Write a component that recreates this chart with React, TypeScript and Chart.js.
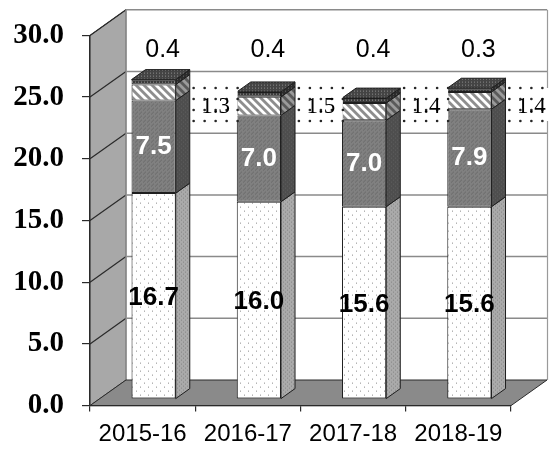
import React, { useEffect, useRef } from "react";
import { Chart, registerables } from "chart.js";

Chart.register(...registerables);

// Share of total, by year (stacked from the bottom up)
const categories = ["2015-16", "2016-17", "2017-18", "2018-19"];
const baseShare = [16.7, 16.0, 15.6, 15.6];
const midShare = [7.5, 7.0, 7.0, 7.9];
const hatchShare = [1.3, 1.5, 1.4, 1.4];
const capShare = [0.4, 0.4, 0.4, 0.3];
const yMin = 0;
const yMax = 30;
const yStep = 5;

// 3D box geometry (pixels)
const DEPTH_X = 36;
const DEPTH_Y = -25.6;
const BAR_DEPTH = 0.39;
const SHIFT_X = 11; // bars sit part of the way into the box
const SHIFT_Y = DEPTH_Y * 0.25;
const SIDE_X = DEPTH_X * BAR_DEPTH;
const SIDE_Y = DEPTH_Y * BAR_DEPTH;

const SANS = '"Liberation Sans", Arial, sans-serif';
const SERIF = '"Liberation Serif", "Times New Roman", serif';

function tile(size: number, draw: (g: CanvasRenderingContext2D, s: number) => void) {
  const c = document.createElement("canvas");
  c.width = size;
  c.height = size;
  const g = c.getContext("2d")!;
  draw(g, size);
  const ctx = document.createElement("canvas").getContext("2d")!;
  return ctx.createPattern(c, "repeat")!;
}

function dotted(bg: string, dot: string, size: number, pts: number[][]) {
  return tile(size, (g, s) => {
    g.fillStyle = bg;
    g.fillRect(0, 0, s, s);
    g.fillStyle = dot;
    pts.forEach(([x, y]) => g.fillRect(x, y, 1, 1));
  });
}

function hatched(bg: string, line: string) {
  return tile(8, (g, s) => {
    g.fillStyle = bg;
    g.fillRect(0, 0, s, s);
    g.fillStyle = line;
    for (let y = 0; y < s; y++) {
      for (let x = 0; x < s; x++) {
        if ((((x - y) % s) + s) % s < 4) g.fillRect(x, y, 1, 1);
      }
    }
  });
}

const fills = () => ({
  baseFront: dotted("#ffffff", "#8a8a8a", 8, [[1, 1], [5, 5]]),
  baseSide: dotted("#aaaaaa", "#848484", 4, [[0, 0], [2, 2]]),
  midFront: dotted("#808080", "#6a6a6a", 4, [[0, 0], [2, 2], [1, 3]]),
  midSide: dotted("#4e4e4e", "#606060", 4, [[0, 0], [2, 2]]),
  hatchFront: hatched("#ffffff", "#8e8e8e"),
  hatchSide: hatched("#9a9a9a", "#5a5a5a"),
  capFront: dotted("#3a3a3a", "#9a9a9a", 3, [[1, 1]]),
  capSide: dotted("#2c2c2c", "#6e6e6e", 3, [[1, 1]]),
  capTop: dotted("#444444", "#8c8c8c", 3, [[1, 1]]),
});

export default function App() {
  const ref = useRef<HTMLCanvasElement | null>(null);

  useEffect(() => {
    document.body.style.margin = "0";
    const canvas = ref.current!;
    const f = fills();
    const sides = [f.baseSide, f.midSide, f.hatchSide, f.capSide];

    const box3d = {
      id: "box3d",
      beforeDraw(chart: any) {
        const { ctx, chartArea: a, scales } = chart;
        const ys = scales.y;
        const l = a.left, r = a.right, b = a.bottom;
        const top = ys.getPixelForValue(yMax);
        ctx.save();
        // back wall
        ctx.fillStyle = "#ffffff";
        ctx.fillRect(l + DEPTH_X, top + DEPTH_Y, r - l, b - top);
        // left wall
        ctx.beginPath();
        ctx.moveTo(l, top);
        ctx.lineTo(l + DEPTH_X, top + DEPTH_Y);
        ctx.lineTo(l + DEPTH_X, b + DEPTH_Y);
        ctx.lineTo(l, b);
        ctx.closePath();
        ctx.fillStyle = "#a8a8a8";
        ctx.fill();
        ctx.strokeStyle = "#3a3a3a";
        ctx.lineWidth = 1;
        ctx.stroke();
        // gridlines across the left wall and back wall
        for (let v = yMin + yStep; v <= yMax; v += yStep) {
          const y = ys.getPixelForValue(v);
          ctx.beginPath();
          ctx.moveTo(l, y);
          ctx.lineTo(l + DEPTH_X, y + DEPTH_Y);
          ctx.strokeStyle = "#2a2a2a";
          ctx.lineWidth = 1.2;
          ctx.stroke();
          ctx.beginPath();
          ctx.moveTo(l + DEPTH_X, y + DEPTH_Y);
          ctx.lineTo(r + DEPTH_X, y + DEPTH_Y);
          ctx.strokeStyle = "#8a8a8a";
          ctx.lineWidth = 1.5;
          ctx.stroke();
        }
        // back wall edges
        ctx.beginPath();
        ctx.moveTo(l + DEPTH_X, top + DEPTH_Y);
        ctx.lineTo(l + DEPTH_X, b + DEPTH_Y);
        ctx.moveTo(r + DEPTH_X + 0.5, top + DEPTH_Y);
        ctx.lineTo(r + DEPTH_X + 0.5, b + DEPTH_Y);
        ctx.strokeStyle = "#9a9a9a";
        ctx.lineWidth = 1.2;
        ctx.stroke();
        // floor
        ctx.beginPath();
        ctx.moveTo(l, b);
        ctx.lineTo(r, b);
        ctx.lineTo(r + DEPTH_X, b + DEPTH_Y);
        ctx.lineTo(l + DEPTH_X, b + DEPTH_Y);
        ctx.closePath();
        ctx.fillStyle = "#8a8a8a";
        ctx.fill();
        ctx.strokeStyle = "#2a2a2a";
        ctx.lineWidth = 1;
        ctx.stroke();
        ctx.restore();
      },
      beforeDatasetsDraw(chart: any) {
        chart.ctx.save();
        chart.ctx.translate(SHIFT_X, SHIFT_Y);
      },
      afterDatasetsDraw(chart: any) {
        const { ctx } = chart;
        const n = chart.data.datasets.length;
        for (let d = 0; d < n; d++) {
          const meta = chart.getDatasetMeta(d);
          meta.data.forEach((el: any) => {
            const right = el.x + el.width / 2;
            const left = el.x - el.width / 2;
            ctx.beginPath();
            ctx.moveTo(right, el.y);
            ctx.lineTo(right + SIDE_X, el.y + SIDE_Y);
            ctx.lineTo(right + SIDE_X, el.base + SIDE_Y);
            ctx.lineTo(right, el.base);
            ctx.closePath();
            ctx.fillStyle = sides[d];
            ctx.fill();
            ctx.strokeStyle = "#1e1e1e";
            ctx.lineWidth = 1;
            ctx.stroke();
            if (d === n - 1) {
              ctx.beginPath();
              ctx.moveTo(left, el.y);
              ctx.lineTo(right, el.y);
              ctx.lineTo(right + SIDE_X, el.y + SIDE_Y);
              ctx.lineTo(left + SIDE_X, el.y + SIDE_Y);
              ctx.closePath();
              ctx.fillStyle = f.capTop;
              ctx.fill();
              ctx.stroke();
            }
          });
        }
        ctx.restore();
      },
      afterDraw(chart: any) {
        const { ctx, scales } = chart;
        const ys = scales.y;
        const ds = chart.data.datasets;
        ctx.save();
        ctx.textAlign = "center";
        ctx.textBaseline = "middle";
        const mid = (el: any) => (el.y + el.base) / 2 + SHIFT_Y;
        chart.getDatasetMeta(0).data.forEach((el: any, i: number) => {
          ctx.font = `bold 26px ${SANS}`;
          ctx.fillStyle = "#000000";
          ctx.fillText(ds[0].data[i].toFixed(1), el.x + SHIFT_X, mid(el) + 2);
        });
        chart.getDatasetMeta(1).data.forEach((el: any, i: number) => {
          ctx.font = `bold 26px ${SANS}`;
          ctx.fillStyle = "#ffffff";
          ctx.fillText(ds[1].data[i].toFixed(1), el.x + SHIFT_X, mid(el));
        });
        chart.getDatasetMeta(2).data.forEach((el: any, i: number) => {
          const cx = el.x + SHIFT_X + 62;
          const cy = ys.getPixelForValue(24.4);
          const w = 44, h = 33, step = 11;
          ctx.fillStyle = "#ffffff";
          ctx.fillRect(cx - w / 2, cy - h / 2, w, h);
          ctx.fillStyle = "#262626";
          for (let gx = 0; gx <= w; gx += step) {
            for (let gy = 0; gy <= h; gy += step) {
              ctx.beginPath();
              ctx.arc(cx - w / 2 + gx, cy - h / 2 + gy, 1.3, 0, Math.PI * 2);
              ctx.fill();
            }
          }
          ctx.font = `23px ${SERIF}`;
          ctx.fillStyle = "#000000";
          ctx.fillText(ds[2].data[i].toFixed(1), cx, cy + 2);
        });
        chart.getDatasetMeta(3).data.forEach((el: any, i: number) => {
          ctx.font = `25px ${SANS}`;
          ctx.fillStyle = "#000000";
          ctx.fillText(ds[3].data[i].toFixed(1), el.x + SHIFT_X + 9, ys.getPixelForValue(28.8));
        });
        ctx.restore();
      },
    };

    const chart = new Chart(canvas, {
      type: "bar",
      data: {
        labels: categories,
        datasets: [
          { label: "base", data: baseShare, backgroundColor: f.baseFront },
          { label: "mid", data: midShare, backgroundColor: f.midFront },
          { label: "hatch", data: hatchShare, backgroundColor: f.hatchFront },
          { label: "cap", data: capShare, backgroundColor: f.capFront },
        ].map((d) => ({
          ...d,
          borderColor: "#1e1e1e",
          borderWidth: 1,
          borderSkipped: false,
          barPercentage: 0.42,
          categoryPercentage: 1,
        })),
      },
      options: {
        responsive: false,
        animation: false,
        devicePixelRatio: 1,
        layout: { padding: { top: 27, right: 41, left: 0, bottom: 0 } },
        plugins: { legend: { display: false }, tooltip: { enabled: false } },
        scales: {
          x: {
            stacked: true,
            grid: {
              display: true,
              drawOnChartArea: false,
              drawTicks: true,
              tickLength: 6,
              color: "#2a2a2a",
              lineWidth: 1.2,
            },
            border: { display: true, color: "#2a2a2a", width: 1.2 },
            ticks: {
              color: "#000000",
              font: { family: SANS, size: 24 },
              padding: 8,
              maxRotation: 0,
            },
            afterFit: (s: any) => {
              s.height = 46.4;
            },
          },
          y: {
            stacked: true,
            min: yMin,
            max: yMax,
            grid: {
              display: true,
              drawOnChartArea: false,
              drawTicks: true,
              tickLength: 8,
              color: "#2a2a2a",
              lineWidth: 1.2,
            },
            border: { display: true, color: "#2a2a2a", width: 1.2 },
            ticks: {
              stepSize: yStep,
              color: "#000000",
              font: { family: SERIF, size: 29, weight: "bold" },
              padding: 18,
              callback: (v: any) => Number(v).toFixed(1),
            },
            afterFit: (s: any) => {
              s.width = 90;
            },
          },
        },
      },
      plugins: [box3d],
    } as any);

    return () => chart.destroy();
  }, []);

  return (
    <div style={{ width: 552, height: 452 }}>
      <canvas ref={ref} width={552} height={452} style={{ display: "block" }} />
    </div>
  );
}
